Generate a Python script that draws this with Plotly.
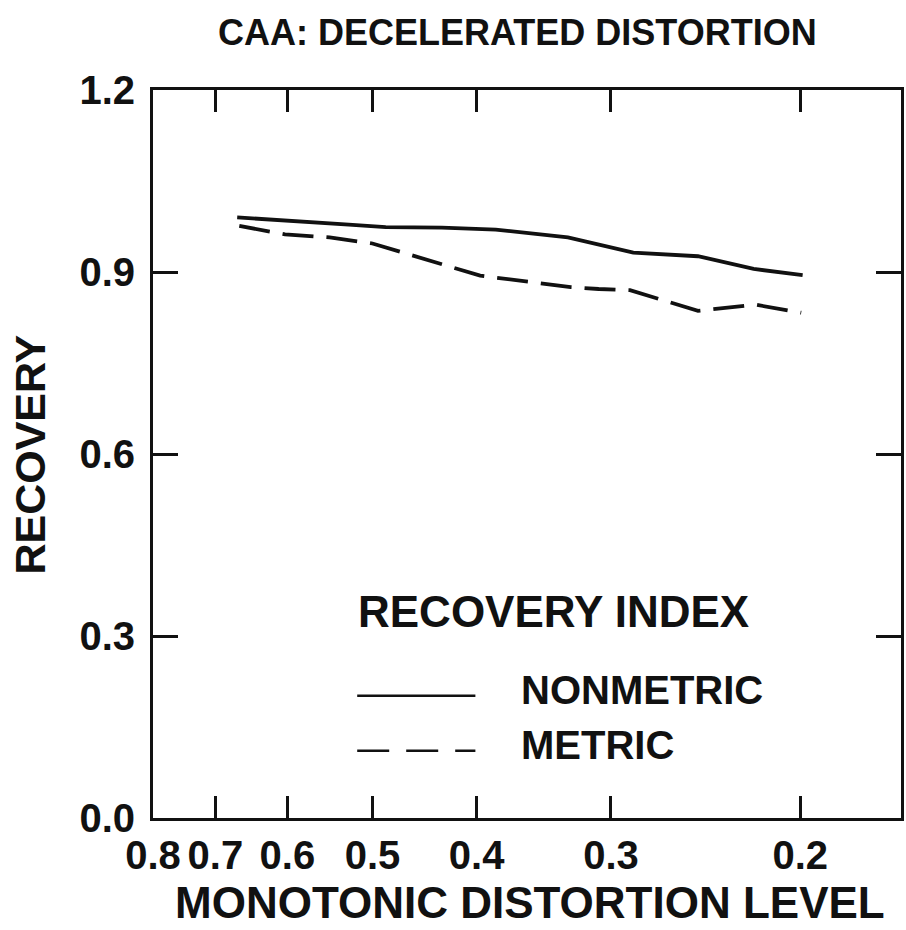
import numpy as np
import plotly.graph_objects as go

# Distortion levels (x) and recovery values (y) for each index
nonmetric_x = [0.668, 0.585, 0.526, 0.486, 0.431, 0.384, 0.329, 0.286, 0.249, 0.221, 0.199]
nonmetric_y = [0.990, 0.984, 0.978, 0.974, 0.973, 0.970, 0.957, 0.932, 0.926, 0.905, 0.895]

metric_x = [0.665, 0.603, 0.548, 0.500, 0.397, 0.327, 0.308, 0.288, 0.249, 0.220, 0.1996]
metric_y = [0.976, 0.962, 0.957, 0.947, 0.894, 0.875, 0.872, 0.870, 0.836, 0.846, 0.833]

x_ticks = [0.8, 0.7, 0.6, 0.5, 0.4, 0.3, 0.2]
x_tick_text = ["0.8", "0.7", "0.6", "0.5", "0.4", "0.3", "0.2"]
y_ticks = [0.0, 0.3, 0.6, 0.9, 1.2]
y_tick_text = ["0.0", "0.3", "0.6", "0.9", "1.2"]

FONT = "Liberation Sans, Arial, Helvetica, sans-serif"
INK = "#111111"


def bold(size):
    return dict(family=FONT, size=size, color=INK, weight="bold")


fig = go.Figure()
fig.add_trace(go.Scatter(x=nonmetric_x, y=nonmetric_y, mode="lines",
                         line=dict(color=INK, width=3.8), name="NONMETRIC"))
fig.add_trace(go.Scatter(x=metric_x, y=metric_y, mode="lines",
                         line=dict(color=INK, width=3.8, dash="31px,13px"), name="METRIC"))

axis_common = dict(
    showline=True, linecolor=INK, linewidth=3, mirror="ticks",
    ticks="inside", tickcolor=INK, tickwidth=2.5,
    showgrid=False, zeroline=False,
    tickfont=bold(40),
)

fig.update_xaxes(type="log", range=[np.log10(0.8), np.log10(0.1612)],
                 tickvals=x_ticks, ticktext=x_tick_text, ticklen=22,
                 ticklabelstandoff=0, **axis_common)
fig.update_yaxes(range=[0, 1.2], tickvals=y_ticks, ticktext=y_tick_text,
                 ticklen=25, ticklabelstandoff=7, **axis_common)

annotations = [
    dict(text="CAA: DECELERATED DISTORTION", x=0.4867, y=1.079, xref="paper", yref="paper",
         xanchor="center", yanchor="middle", showarrow=False, font=bold(36)),
    dict(text="MONOTONIC DISTORTION LEVEL", x=0.504, y=-0.116, xref="paper", yref="paper",
         xanchor="center", yanchor="middle", showarrow=False, font=bold(44)),
    dict(text="RECOVERY", x=-0.165, y=0.4986, xref="paper", yref="paper", textangle=-90,
         xanchor="center", yanchor="middle", showarrow=False, font=bold(43)),
    dict(text="RECOVERY INDEX", x=0.2708, y=0.2834, xref="paper", yref="paper",
         xanchor="left", yanchor="middle", showarrow=False, font=bold(44)),
    dict(text="NONMETRIC", x=0.4887, y=0.1758, xref="paper", yref="paper",
         xanchor="left", yanchor="middle", showarrow=False, font=bold(40)),
    dict(text="METRIC", x=0.4887, y=0.1003, xref="paper", yref="paper",
         xanchor="left", yanchor="middle", showarrow=False, font=bold(40)),
]

# Legend key lines
shapes = [
    dict(type="line", xref="paper", yref="paper", x0=0.273, x1=0.431, y0=0.168, y1=0.168,
         line=dict(color=INK, width=2.5)),
    dict(type="line", xref="paper", yref="paper", x0=0.273, x1=0.431, y0=0.0924, y1=0.0924,
         line=dict(color=INK, width=2.5, dash="32px,17px")),
]

fig.update_layout(
    width=906, height=930,
    margin=dict(l=153, r=2, t=90, b=112),
    paper_bgcolor="white", plot_bgcolor="white",
    showlegend=False,
    annotations=annotations, shapes=shapes,
    font=dict(family=FONT, color=INK),
)

fig.write_html("out.html")
